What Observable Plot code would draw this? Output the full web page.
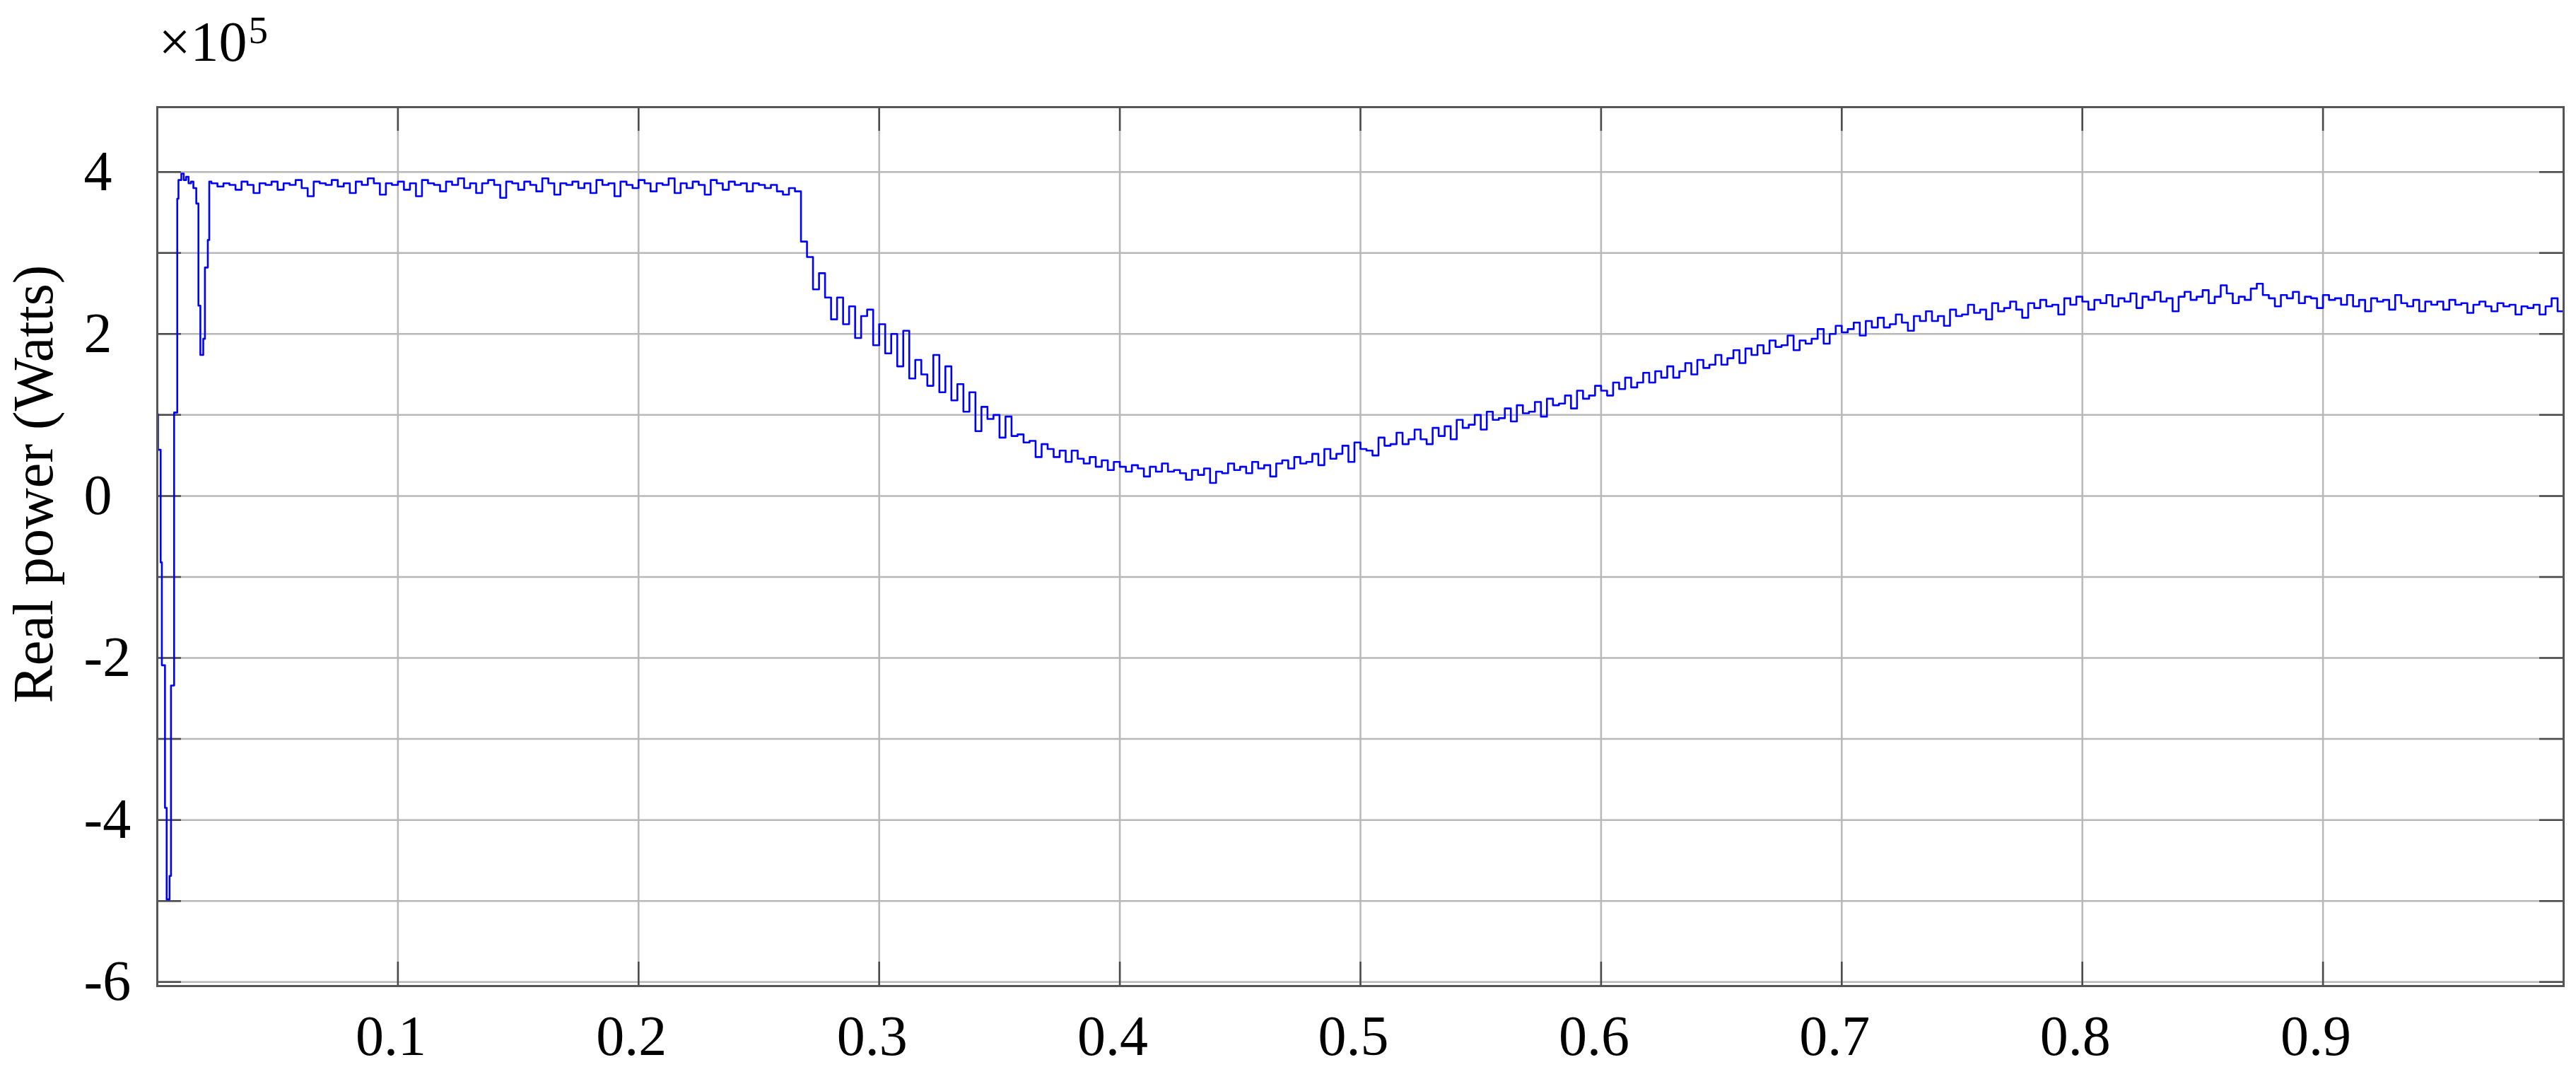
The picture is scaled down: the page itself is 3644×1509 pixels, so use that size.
<!DOCTYPE html>
<html>
<head>
<meta charset="utf-8">
<script src="https://cdn.jsdelivr.net/npm/d3@7"></script>
<script src="https://cdn.jsdelivr.net/npm/@observablehq/plot@0.6"></script>
<style>
html, body { margin: 0; padding: 0; background: #fff; }
svg { display: block; }
</style>
</head>
<body>
<div id="chart"></div>
<script>
// ---- data (real power in units of 10^5 W) ----
const yTitle = "Real power (Watts)";
const scaleBase = "×10";
const scaleExp = "5";
const xTicks = [0.1, 0.2, 0.3, 0.4, 0.5, 0.6, 0.7, 0.8, 0.9];
const yTickLabels = [4, 2, 0, -2, -4, -6];
const yGridValues = [4, 3, 2, 1, 0, -1, -2, -3, -4, -5, -6];

// start-up transient (irregular solver steps)
const earlyTime = [0, 0.0003, 0.0014, 0.0019, 0.0032, 0.0039, 0.0051, 0.0057, 0.0070, 0.0083, 0.0088, 0.0100, 0.0110, 0.0120, 0.0130, 0.0140, 0.0150, 0.0162, 0.0171, 0.0179, 0.0191, 0.0198, 0.0210, 0.0216];
const earlyPower = [1.01, 0.57, -0.82, -2.09, -3.85, -4.98, -4.69, -2.34, 1.03, 3.67, 3.90, 3.98, 3.90, 3.94, 3.86, 3.88, 3.80, 3.61, 2.35, 1.74, 1.94, 2.82, 3.16, 3.88];

// rest of the run, one value every sampleStep seconds from sampleStart
const sampleStart = 0.0225;
const sampleStep = 0.0025;
const sampledPower = [
  3.86, 3.82, 3.86, 3.84, 3.78, 3.88, 3.84, 3.74, 3.86, 3.84,
  3.88, 3.78, 3.86, 3.84, 3.90, 3.80, 3.70, 3.88, 3.86, 3.84,
  3.90, 3.82, 3.86, 3.74, 3.88, 3.84, 3.92, 3.86, 3.72, 3.86,
  3.84, 3.88, 3.78, 3.86, 3.70, 3.90, 3.86, 3.84, 3.76, 3.88,
  3.84, 3.92, 3.80, 3.86, 3.74, 3.86, 3.90, 3.84, 3.68, 3.88,
  3.86, 3.78, 3.88, 3.84, 3.76, 3.92, 3.86, 3.72, 3.86, 3.84,
  3.88, 3.80, 3.86, 3.74, 3.90, 3.84, 3.86, 3.70, 3.88, 3.84,
  3.80, 3.90, 3.86, 3.76, 3.86, 3.84, 3.92, 3.74, 3.86, 3.80,
  3.88, 3.84, 3.72, 3.90, 3.86, 3.78, 3.88, 3.84, 3.86, 3.76,
  3.86, 3.84, 3.80, 3.84, 3.76, 3.72, 3.80, 3.76,
  3.14, 2.95, 2.55, 2.75, 2.45, 2.18, 2.45, 2.12, 2.34, 1.95,
  2.22, 2.30, 1.86, 2.12, 1.76, 2.00, 1.60, 2.04, 1.45, 1.68,
  1.50, 1.36, 1.74, 1.28, 1.60, 1.18, 1.38, 1.04, 1.28, 0.80,
  1.10, 0.95, 1.00, 0.72, 0.98, 0.74, 0.76, 0.66, 0.68, 0.48,
  0.64, 0.58, 0.48, 0.56, 0.42, 0.56, 0.46, 0.40, 0.48, 0.36,
  0.44, 0.32, 0.42, 0.36, 0.30, 0.38, 0.34, 0.24, 0.36, 0.30,
  0.40, 0.30, 0.32, 0.28, 0.20, 0.32, 0.26, 0.34, 0.16, 0.30,
  0.28, 0.40, 0.32,
  0.36, 0.28, 0.42, 0.34, 0.38, 0.24, 0.40, 0.44, 0.34, 0.48,
  0.40, 0.42, 0.52, 0.38, 0.58, 0.46, 0.52, 0.62, 0.42, 0.66,
  0.58, 0.56, 0.50, 0.72, 0.62, 0.64, 0.78, 0.64, 0.70, 0.82,
  0.70, 0.64, 0.84, 0.74, 0.86, 0.70, 0.94, 0.84, 0.88, 1.00,
  0.82, 1.04, 0.94, 0.96, 1.08, 0.92, 1.12, 1.02, 1.04, 1.16,
  0.98, 1.20, 1.12, 1.14, 1.24, 1.08, 1.30, 1.20, 1.24, 1.36,
  1.30, 1.24, 1.40, 1.32, 1.46, 1.34, 1.40, 1.52, 1.40, 1.54,
  1.46, 1.60, 1.46, 1.54, 1.64, 1.50, 1.68, 1.58, 1.62, 1.74,
  1.62, 1.70, 1.80, 1.64, 1.82, 1.74, 1.86, 1.76, 1.92, 1.84,
  1.86, 1.98, 1.80, 1.92, 1.88, 1.94, 2.06, 1.88, 2.00, 2.10,
  2.02, 2.06, 2.14, 1.98, 2.16, 2.08, 2.20, 2.08, 2.12, 2.24,
  2.14, 2.04, 2.22, 2.16, 2.28, 2.16, 2.22, 2.10, 2.30, 2.22,
  2.24, 2.36, 2.26, 2.30, 2.18, 2.38, 2.28, 2.32, 2.40, 2.30,
  2.20, 2.38, 2.32, 2.42, 2.34, 2.36, 2.24, 2.44, 2.36, 2.46,
  2.40, 2.30, 2.42, 2.38, 2.48, 2.34, 2.44, 2.40, 2.50, 2.32,
  2.46, 2.42, 2.52, 2.40, 2.44, 2.28, 2.46, 2.52, 2.42, 2.46,
  2.54, 2.38, 2.46, 2.60, 2.50, 2.38, 2.46, 2.42, 2.56, 2.62,
  2.48, 2.44, 2.34, 2.48, 2.44, 2.52, 2.38, 2.46, 2.44, 2.32,
  2.48, 2.42, 2.44, 2.36, 2.48, 2.34, 2.42, 2.28, 2.44, 2.40,
  2.42, 2.30, 2.48, 2.38, 2.34, 2.42, 2.28, 2.40, 2.36, 2.40,
  2.30, 2.42, 2.36, 2.38, 2.26, 2.36, 2.40, 2.34, 2.28, 2.38,
  2.34, 2.36, 2.24, 2.34, 2.32, 2.36, 2.24, 2.34, 2.44, 2.28,
  2.36
];

// ---- build table ----
const rows = earlyTime.map((t, i) => ({t, p: earlyPower[i]}))
  .concat(sampledPower.map((p, i) => ({t: sampleStart + i * sampleStep, p})));

// ---- layout ----
const W = 3644, H = 1509;
const mL = 222, mR = 18, mT = 151, mB = 115;
const plotW = W - mL - mR, plotH = H - mT - mB;
const serif = "'Liberation Serif', 'Times New Roman', serif";
const tickLen = 34;

const chart = Plot.plot({
  width: W,
  height: H,
  marginLeft: mL,
  marginRight: mR,
  marginTop: mT,
  marginBottom: mB,
  style: {background: "#fff", fontFamily: serif, color: "#000"},
  x: {domain: [0, 1], axis: null},
  y: {domain: [-6.05, 4.8], axis: null},
  marks: [
    Plot.ruleX(xTicks, {x: d => d, stroke: "#b8b8b8", strokeWidth: 2.5}),
    Plot.ruleY(yGridValues, {y: d => d, stroke: "#b8b8b8", strokeWidth: 2.5}),
    Plot.tickY(yGridValues, {y: d => d, insetRight: plotW - tickLen, stroke: "#4a4a4a", strokeWidth: 2.5}),
    Plot.tickY(yGridValues, {y: d => d, insetLeft: plotW - tickLen, stroke: "#4a4a4a", strokeWidth: 2.5}),
    Plot.tickX(xTicks, {x: d => d, insetBottom: plotH - tickLen, stroke: "#4a4a4a", strokeWidth: 2.5}),
    Plot.tickX(xTicks, {x: d => d, insetTop: plotH - tickLen, stroke: "#4a4a4a", strokeWidth: 2.5}),
    Plot.line(rows, {x: "t", y: "p", curve: "step-after", stroke: "#0000ff", strokeWidth: 2.6}),
    Plot.frame({stroke: "#555", strokeWidth: 3}),
    Plot.text(xTicks, {x: d => d, frameAnchor: "bottom", dx: -10, dy: 72, textAnchor: "middle", lineAnchor: "middle", text: d => String(d), fontSize: 80, fill: "#000"}),
    Plot.text(yTickLabels, {y: d => d, frameAnchor: "left", dx: -104, textAnchor: "start", lineAnchor: "middle", text: d => String(d), fontSize: 80, fill: "#000"}),
    Plot.text([yTitle], {frameAnchor: "left", rotate: -90, dx: -174, dy: -88.5, textAnchor: "middle", lineAnchor: "middle", text: d => d, fontSize: 80, fill: "#000"}),
    Plot.text([scaleBase], {frameAnchor: "top-left", dx: 2, dy: -91.6, textAnchor: "start", lineAnchor: "middle", text: d => d, fontSize: 80, fill: "#000"}),
    Plot.text([scaleExp], {frameAnchor: "top-left", dx: 129, dy: -108.6, textAnchor: "start", lineAnchor: "middle", text: d => d, fontSize: 55, fill: "#000"})
  ]
});
document.getElementById("chart").appendChild(chart);
</script>
</body>
</html>
